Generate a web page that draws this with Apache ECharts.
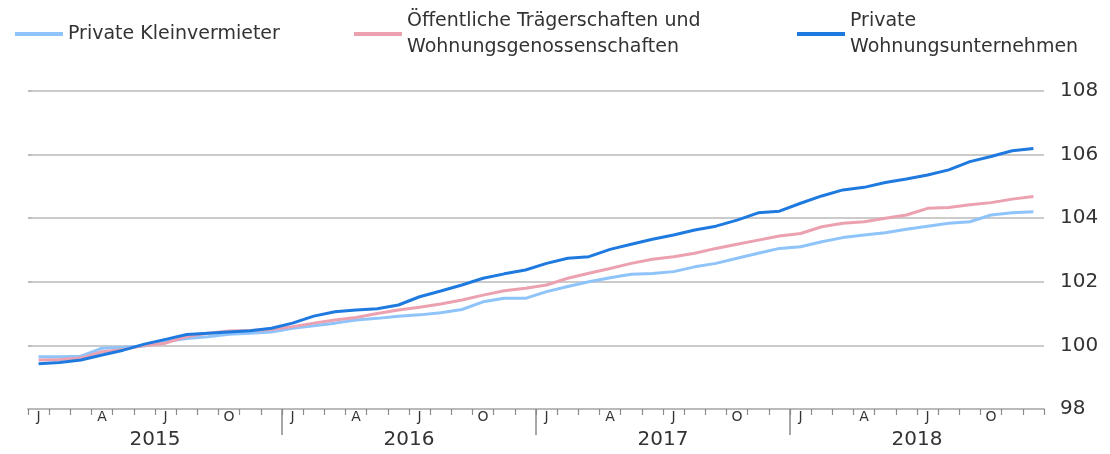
<!DOCTYPE html>
<html>
<head>
<meta charset="utf-8">
<script src="https://cdn.jsdelivr.net/npm/echarts@6/dist/echarts.min.js"></script>
<style>
  html, body { margin: 0; padding: 0; background: #fff; }
  #main { width: 1110px; height: 454px; }
</style>
</head>
<body>
<div id="main"></div>
<script>
// Monatliche Indexwerte 2015-2018
var years = ['2015', '2016', '2017', '2018']
var monthLetters = ['J', 'F', 'M', 'A', 'M', 'J', 'J', 'A', 'S', 'O', 'N', 'D']

var kleinvermieter = [
    99.64, 99.64, 99.66, 99.91, 99.94, 99.98, 100.12, 100.22, 100.27, 100.35, 100.38, 100.42,
    100.54, 100.62, 100.70, 100.80, 100.85, 100.92, 100.96, 101.03, 101.13, 101.37, 101.48, 101.48,
    101.69, 101.85, 102.00, 102.13, 102.24, 102.26, 102.32, 102.47, 102.58, 102.74, 102.90, 103.05,
    103.10, 103.26, 103.39, 103.47, 103.54, 103.65, 103.75, 103.84, 103.89, 104.10, 104.17, 104.20
]
var oeffentlich = [
    99.54, 99.56, 99.60, 99.80, 99.87, 100.00, 100.07, 100.28, 100.38, 100.45, 100.47, 100.50,
    100.59, 100.70, 100.80, 100.88, 101.00, 101.11, 101.20, 101.30, 101.43, 101.58, 101.72, 101.80,
    101.90, 102.11, 102.27, 102.42, 102.58, 102.71, 102.79, 102.90, 103.05, 103.18, 103.31, 103.44,
    103.52, 103.73, 103.84, 103.89, 104.00, 104.10, 104.31, 104.34, 104.42, 104.49, 104.60, 104.68
]
var unternehmen = [
    99.42, 99.46, 99.54, 99.70, 99.85, 100.04, 100.19, 100.34, 100.38, 100.42, 100.46, 100.54,
    100.70, 100.92, 101.06, 101.11, 101.15, 101.27, 101.53, 101.71, 101.90, 102.11, 102.25, 102.37,
    102.58, 102.74, 102.79, 103.02, 103.18, 103.34, 103.47, 103.63, 103.75, 103.94, 104.17, 104.22,
    104.47, 104.70, 104.89, 104.97, 105.12, 105.23, 105.36, 105.52, 105.78, 105.94, 106.12, 106.19
]

var seriesNames = [
    'Private Kleinvermieter',
    'Öffentliche Trägerschaften und\nWohnungsgenossenschaften',
    'Private\nWohnungsunternehmen'
]
var seriesColors = ['#8ec4fa', '#eba1b0', '#1f7ae0']

var categories = []
years.forEach(function (y) {
    monthLetters.forEach(function (m, i) { categories.push(y + '-' + (i + 1)) })
})

var font = 'DejaVu Sans'
var textColor = '#333'
var gridColor = '#bababa'

function legendFor(idx, left, top) {
    return {
        data: [seriesNames[idx]],
        left: left,
        top: top,
        padding: 0,
        icon: 'rect',
        itemWidth: 48,
        itemHeight: 4,
        selectedMode: false,
        textStyle: { fontFamily: font, fontSize: 19, color: textColor, lineHeight: 26 }
    }
}

var myChart = echarts.init(document.getElementById('main'))

var option = {
    animation: false,
    backgroundColor: '#fff',
    textStyle: { fontFamily: font },
    legend: [
        legendFor(0, 15, 21),
        legendFor(1, 354, 8),
        legendFor(2, 797, 8)
    ],
    grid: { left: 28, right: 66, top: 91, bottom: 45 },
    xAxis: [{
        type: 'category',
        data: categories,
        boundaryGap: true,
        axisLine: { lineStyle: { color: gridColor, width: 2 } },
        axisTick: { show: true, interval: 0, length: 6, lineStyle: { color: '#8a8a8a', width: 1.2 } },
        axisLabel: {
            interval: function (i) { return i % 3 === 0 },
            formatter: function (v, i) { return monthLetters[i % 12] },
            margin: 1,
            fontFamily: font,
            fontSize: 14,
            color: textColor
        }
    }, {
        type: 'value',
        position: 'bottom',
        offset: 0,
        min: 0,
        max: years.length * 12,
        axisLine: { show: false },
        splitLine: { show: false },
        axisTick: {
            show: true,
            customValues: years.slice(1).map(function (y, i) { return (i + 1) * 12 }),
            length: 26,
            lineStyle: { color: '#8a8a8a', width: 1.5 }
        },
        axisLabel: {
            customValues: years.map(function (y, i) { return i * 12 + 6 }),
            formatter: function (v) { return years[(v - 6) / 12] },
            margin: 21,
            fontFamily: font,
            fontSize: 20,
            color: textColor
        }
    }],
    yAxis: {
        type: 'value',
        position: 'right',
        min: 98,
        max: 108,
        interval: 2,
        axisLine: { show: false },
        axisTick: { show: true, length: 4, lineStyle: { color: gridColor, width: 1.5 } },
        splitLine: { lineStyle: { color: gridColor, width: 1.5 } },
        axisLabel: { margin: 16, fontFamily: font, fontSize: 20, color: textColor }
    },
    series: [kleinvermieter, oeffentlich, unternehmen].map(function (d, i) {
        return {
            name: seriesNames[i],
            type: 'line',
            xAxisIndex: 0,
            data: d,
            showSymbol: false,
            symbol: 'none',
            color: seriesColors[i],
            lineStyle: { width: 3, color: seriesColors[i] }
        }
    })
}

myChart.setOption(option)
</script>
</body>
</html>
